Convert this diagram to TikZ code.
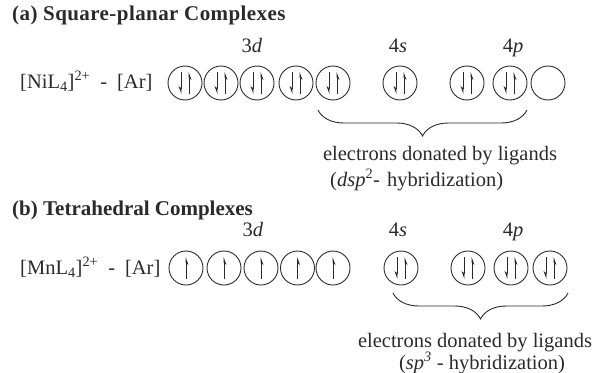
\documentclass[tikz,border=0pt]{standalone}
\usepackage{fontspec}
\setmainfont{Liberation Serif}
\usetikzlibrary{arrows.meta,decorations.pathreplacing}
\definecolor{ink}{HTML}{2A2A2A}

\begin{document}
\begin{tikzpicture}[x=1pt,y=-1pt,
  orb/.style={circle,draw=ink,line width=0.9pt,minimum size=34pt,inner sep=0pt},
  spin/.style={draw=ink,line width=0.8pt,-{Stealth[harpoon,swap,length=7pt,width=5pt]}},
  lbl/.style={font=\fontsize{20.5}{24}\selectfont,text=ink,inner sep=0pt,anchor=base},
  ttl/.style={lbl,font=\fontsize{21}{24}\selectfont\bfseries,anchor=base west},
  curly/.style={draw=ink,line width=0.9pt,decorate,decoration={brace,amplitude=26pt}},
  pair/.pic={\draw[spin] (-4,-11) -- (-4,11); \draw[spin] (4,11) -- (4,-11);},
  single/.pic={\draw[spin] (0,11) -- (0,-11);}]
\useasboundingbox (0,0) rectangle (594,372);

% ---- (a) square-planar, dsp2 ----
\node[ttl] (ta) at (12,20) {\addfontfeatures{LetterSpace=2}(a) Square-planar Complexes};
\node[lbl,anchor=base west] (nia) at (20,88) {[NiL\textsubscript{4}]\textsuperscript{2+}\hspace{10pt}-\hspace{10pt}[Ar]};
\node[lbl] (da) at (252,52) {3\textit{d}};
\node[lbl] (sa) at (398,52) {4\textit{s}};
\node[lbl] (pa) at (513,52) {4\textit{p}};

\foreach \n/\x in {a1/185,a2/221,a3/257,a4/296,a5/333,as/400,ap1/467,ap2/510,ap3/548}
  \node[orb] (\n) at (\x,83) {};
\foreach \n in {a1,a2,a3,a4,a5,as,ap1,ap2}
  \pic at (\n) {pair};

\coordinate (bal) at (318,110);
\coordinate (bar) at (527,110);
\draw[curly] (bar) -- (bal);
\node[lbl] (ea) at (440,160) {electrons donated by ligands};
\node[lbl,anchor=base west] (ha) at (330,186) {(\textit{dsp}\textsuperscript{2}-\hspace{7pt}hybridization)};

% ---- (b) tetrahedral, sp3 ----
\node[ttl] (tb) at (12,215) {(b) Tetrahedral Complexes};
\node[lbl,anchor=base west] (mnb) at (20,274) {[MnL\textsubscript{4}]\textsuperscript{2+}\hspace{10pt}-\hspace{10pt}[Ar]};
\node[lbl] (db) at (253,236) {3\textit{d}};
\node[lbl] (sb) at (398,236) {4\textit{s}};
\node[lbl] (pb) at (513,236) {4\textit{p}};

\foreach \n/\x in {b1/186,b2/224,b3/261,b4/297.5,b5/333,bs/401,bp1/468,bp2/511,bp3/550}
  \node[orb] (\n) at (\x,268) {};
\foreach \n in {b1,b2,b3,b4,b5}
  \pic at (\n) {single};
\foreach \n in {bs,bp1,bp2,bp3}
  \pic at (\n) {pair};

\coordinate (bbl) at (393,293);
\coordinate (bbr) at (568,293);
\draw[curly] (bbr) -- (bbl);
\node[lbl] (eb) at (475,347) {electrons donated by ligands};
\node[lbl] (hb) at (482,369) {(\textit{sp}\textsuperscript{\textit{3}} - hybridization)};
\end{tikzpicture}
\end{document}
